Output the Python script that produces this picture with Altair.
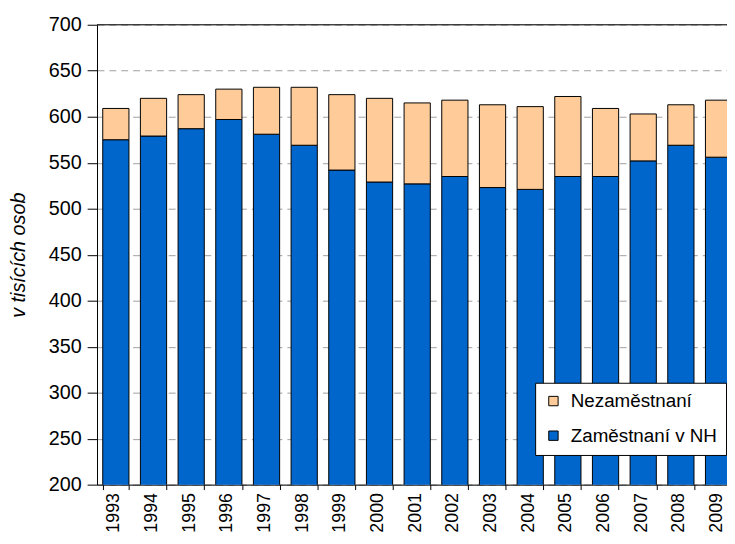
import altair as alt
import pandas as pd

years = [str(y) for y in range(1993, 2010)]
employed = [575, 579, 587, 597, 581, 569, 542, 529, 527, 535, 523, 521, 535, 535, 552, 569, 556]
unemployed = [34, 41, 37, 33, 51, 63, 82, 91, 88, 83, 90, 90, 87, 74, 51, 44, 62]
series = ["Nezaměstnaní", "Zaměstnaní v NH"]
colors = ["#FFCC99", "#0066CC"]
y_ticks = [200, 250, 300, 350, 400, 450, 500, 550, 600, 650, 700]
y_top = [700]

rows = []
for yr, e, u in zip(years, employed, unemployed):
    rows.append({"rok": yr, "serie": series[1], "hodnota": e, "poradi": 0})
    rows.append({"rok": yr, "serie": series[0], "hodnota": u, "poradi": 1})
df = pd.DataFrame(rows)
df_top = pd.DataFrame({"hodnota": y_top})

FONT = "Liberation Sans"

yscale = alt.Scale(domain=[200, 700], nice=False, zero=False)

bars = alt.Chart(df).mark_bar(stroke="black", strokeWidth=1, clip=True).encode(
    x=alt.X("rok:N", sort=years,
            scale=alt.Scale(paddingInner=0.304, paddingOuter=0.152, range=[0, 647.5]),
            axis=alt.Axis(title=None, labelAngle=-90, labelFontSize=18, labelFont=FONT,
                          labelColor="black", labelPadding=3, tickBand="extent",
                          tickSize=5, tickColor="black", domainColor="black",
                          labelBaseline="middle", labelAlign="right", labelOffset=-2)),
    y=alt.Y("hodnota:Q", stack="zero", scale=yscale,
            axis=alt.Axis(title="v tisících osob", titleFontStyle="italic", titleFontWeight="normal",
                          titleFontSize=20, titleFont=FONT, titleColor="black", titlePadding=20,
                          values=y_ticks, labelFontSize=20, labelFont=FONT, labelColor="black",
                          labelPadding=6, tickSize=10, tickColor="black", domainColor="black",
                          gridDash=[7, 5], gridColor="#A0A0A0", gridWidth=1)),
    color=alt.Color("serie:N", scale=alt.Scale(domain=series, range=colors),
                    legend=alt.Legend(title=None, orient="none", legendX=443, legendY=362,
                                      labelFontSize=19, labelFont=FONT, labelColor="black",
                                      symbolType="square", symbolSize=90, symbolStrokeColor="black",
                                      symbolStrokeWidth=1, rowPadding=15, padding=9,
                                      fillColor="white", strokeColor="black",
                                      labelOffset=8)),
    order=alt.Order("poradi:Q", sort="ascending"),
)

top_line = alt.Chart(df_top).mark_rule(color="black", strokeWidth=1).encode(
    y=alt.Y("hodnota:Q", scale=yscale)
)

chart = alt.layer(bars, top_line).properties(
    width=637, height=465,
    autosize=alt.AutoSizeParams(type="none"),
    padding={"left": 90, "top": 14, "right": 0, "bottom": 49},
).configure_view(stroke=None).configure(background="white")

chart.save("out.html", embed_options={"renderer": "svg", "actions": False})
